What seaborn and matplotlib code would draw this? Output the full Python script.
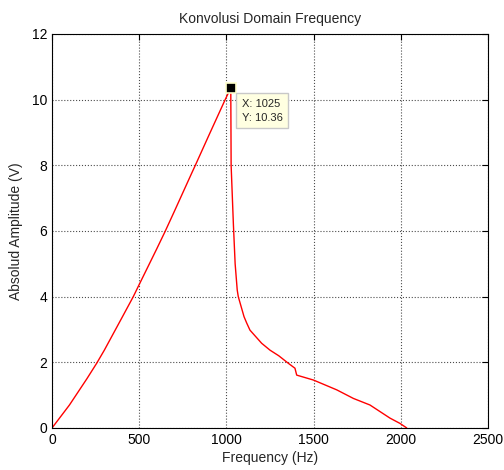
import matplotlib
matplotlib.use("Agg")
import matplotlib.pyplot as plt
import seaborn as sns
import pandas as pd

# -----------------------------
# Data
# -----------------------------
freq = [0, 100, 200, 256, 300, 400, 466, 500, 600, 648, 700, 800, 820,
        900, 992, 1025,
        1027, 1040, 1050, 1062, 1068, 1101, 1116, 1135, 1202, 1250, 1300,
        1355, 1393, 1403, 1499, 1633, 1728, 1823, 1938, 1995, 2034]
amp = [0.0, 0.7, 1.5, 1.97, 2.37, 3.35, 4.0, 4.37, 5.45, 5.98, 6.58, 7.75,
       7.98, 8.92, 9.99, 10.36,
       8.0, 6.2, 5.0, 4.2, 4.0, 3.39, 3.2, 2.98, 2.58, 2.37, 2.2,
       1.97, 1.82, 1.61, 1.46, 1.16, 0.9, 0.7, 0.3, 0.14, 0.0]

tip_x = 1025
tip_y = 10.36

x_ticks = [0, 500, 1000, 1500, 2000, 2500]
y_ticks = [0, 2, 4, 6, 8, 10, 12]

df = pd.DataFrame({"Frequency": freq, "Amplitude": amp})

# -----------------------------
# Plot
# -----------------------------
sns.set_style("white")
plt.rcParams["font.family"] = ["Liberation Sans", "DejaVu Sans"]
plt.rcParams["xtick.direction"] = "in"
plt.rcParams["ytick.direction"] = "in"

fig = plt.figure(figsize=(5.04, 4.70), dpi=100)
ax = fig.add_axes([0.1032, 0.0894, 0.8651, 0.8383])

sns.lineplot(data=df, x="Frequency", y="Amplitude", color="red",
             linewidth=1.0, ax=ax, sort=False)

# data tip
ax.plot(tip_x, tip_y, marker="s", markersize=7, color="black",
        markeredgecolor="#ffffcc", markeredgewidth=1.2, zorder=5)
ax.annotate(f"X: {tip_x}\nY: {tip_y}", xy=(tip_x, tip_y),
            xytext=(8, -8), textcoords="offset points",
            ha="left", va="top", fontsize=8, linespacing=1.45,
            bbox=dict(boxstyle="square,pad=0.5", fc="#ffffe1",
                      ec="#c8c8c8", lw=1.0), zorder=6)

ax.set_xlim(0, 2500)
ax.set_ylim(0, 12)
ax.set_xticks(x_ticks)
ax.set_yticks(y_ticks)
ax.tick_params(labelsize=10, length=4, width=0.8, colors="black",
               top=True, right=True)
ax.grid(True, linestyle=":", color="black", linewidth=0.8, alpha=0.7)
for s in ax.spines.values():
    s.set_color("black")
    s.set_linewidth(0.8)

ax.set_xlabel("Frequency (Hz)", fontsize=10, labelpad=3)
ax.set_ylabel("Absolud Amplitude (V)", fontsize=10, labelpad=6)
ax.set_title("Konvolusi Domain Frequency", fontsize=10, pad=8)

plt.savefig("out.png", dpi=100)
